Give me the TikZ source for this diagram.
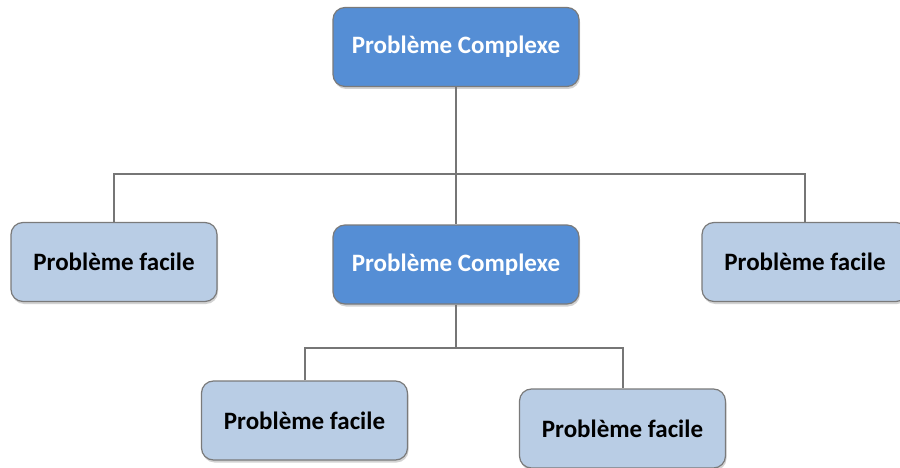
\documentclass[tikz,border=0pt]{standalone}
\usepackage{fontspec}
\setmainfont{Carlito}
\usetikzlibrary{shadows}
\definecolor{darkbox}{HTML}{558ED5}
\definecolor{lightbox}{HTML}{B9CDE5}
\definecolor{edgegray}{HTML}{7A7A7A}
\definecolor{linkgray}{HTML}{767676}
\begin{document}
\begin{tikzpicture}[x=1pt,y=-1pt,
  box/.style={draw=edgegray, line width=1.2pt, rounded corners=12pt,
    minimum width=206pt, minimum height=79pt, inner sep=0pt,
    font=\bfseries\fontsize{25}{30}\selectfont,
    drop shadow={shadow xshift=1pt, shadow yshift=-2.5pt, opacity=0.35}},
  complexbox/.style={box, fill=darkbox, text=white, minimum width=246pt},
  easybox/.style={box, fill=lightbox, text=black},
  link/.style={draw=linkgray, line width=2pt}]
  \clip (0,0) rectangle (900,468);
  \fill[white] (0,0) rectangle (900,468);

  % branching points of the two horizontal bars
  \coordinate (bus1) at (456,174);
  \coordinate (bus2) at (456,348);

  % first level
  \node[complexbox] (root) at (456,47) {Problème Complexe};
  \node[easybox] (left) at (114,262) {Problème facile};
  \node[complexbox] (mid) at (456,264.5) {Problème Complexe};
  \node[easybox] (right) at (805,262) {Problème facile};
  % second level
  \node[easybox] (bl) at (304.5,420.5) {Problème facile};
  \node[easybox] (br) at (622.5,428.5) {Problème facile};

  \draw[link] (root.south) -- (mid.north);
  \draw[link] (left.north) |- (bus1) -| (right.north);
  \draw[link] (mid.south) -- (bus2);
  \draw[link] (bl.north) |- (bus2) -| (br.north);
\end{tikzpicture}
\end{document}
